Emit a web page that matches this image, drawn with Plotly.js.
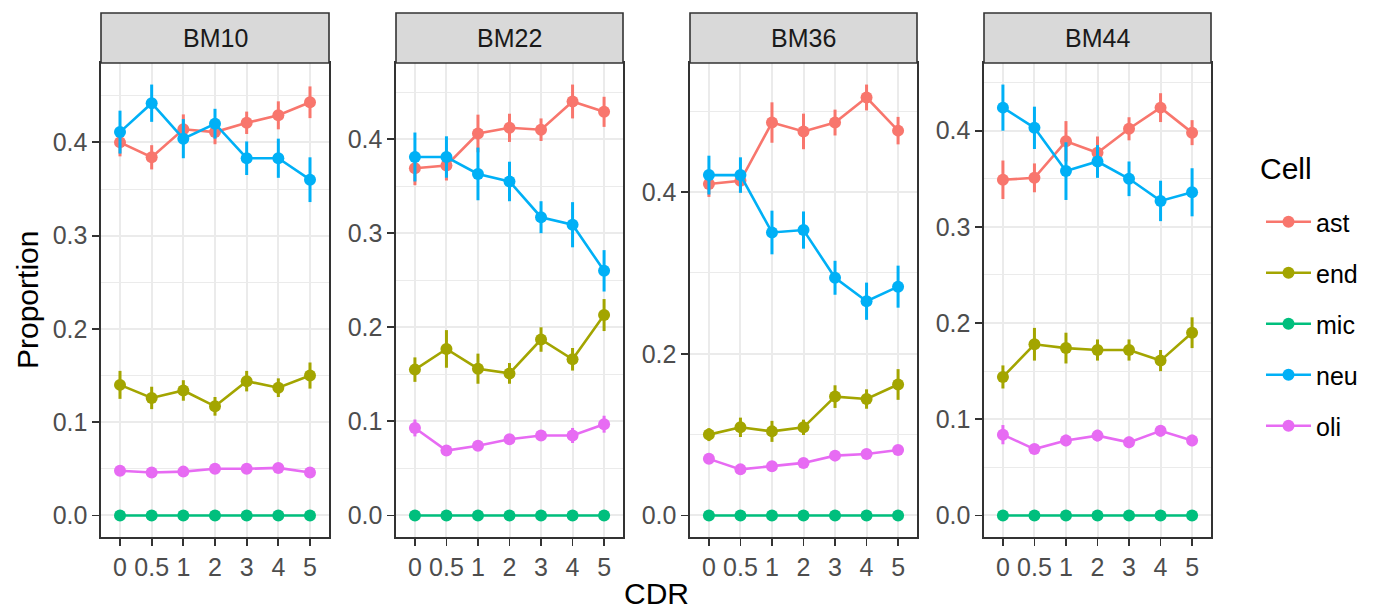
<!DOCTYPE html>
<html><head><meta charset="utf-8">
<script src="https://cdn.plot.ly/plotly-3.0.1.min.js"></script>
<style>html,body{margin:0;padding:0;background:#fff}#chart{width:1373px;height:613px}</style>
</head><body><div id="chart"></div>
<script>
const cdr = ['0', '0.5', '1', '2', '3', '4', '5'];
const panels = ['BM10', 'BM22', 'BM36', 'BM44'];
const cells = ['ast', 'end', 'mic', 'neu', 'oli'];
const cellColors = ['#F8766D', '#A3A500', '#00BF7D', '#00B0F6', '#E76BF3'];
const legendTitle = 'Cell';

// BM10
const BM10_ast = [0.400, 0.384, 0.414, 0.411, 0.421, 0.429, 0.443];
const BM10_ast_se = [0.015, 0.013, 0.016, 0.013, 0.012, 0.015, 0.017];
const BM10_end = [0.140, 0.126, 0.134, 0.117, 0.144, 0.137, 0.150];
const BM10_end_se = [0.015, 0.012, 0.011, 0.010, 0.011, 0.010, 0.014];
const BM10_mic = [0, 0, 0, 0, 0, 0, 0];
const BM10_mic_se = [0, 0, 0, 0, 0, 0, 0];
const BM10_neu = [0.411, 0.442, 0.404, 0.420, 0.383, 0.383, 0.360];
const BM10_neu_se = [0.023, 0.020, 0.021, 0.016, 0.018, 0.021, 0.024];
const BM10_oli = [0.048, 0.046, 0.047, 0.050, 0.050, 0.051, 0.046];
const BM10_oli_se = [0.003, 0.003, 0.003, 0.003, 0.003, 0.003, 0.003];

// BM22
const BM22_ast = [0.369, 0.372, 0.406, 0.412, 0.410, 0.440, 0.429];
const BM22_ast_se = [0.018, 0.016, 0.020, 0.015, 0.012, 0.018, 0.016];
const BM22_end = [0.155, 0.177, 0.156, 0.151, 0.187, 0.166, 0.213];
const BM22_end_se = [0.013, 0.020, 0.016, 0.011, 0.013, 0.012, 0.017];
const BM22_mic = [0, 0, 0, 0, 0, 0, 0];
const BM22_mic_se = [0, 0, 0, 0, 0, 0, 0];
const BM22_neu = [0.381, 0.381, 0.363, 0.355, 0.317, 0.309, 0.260];
const BM22_neu_se = [0.026, 0.022, 0.028, 0.021, 0.017, 0.024, 0.022];
const BM22_oli = [0.093, 0.069, 0.074, 0.081, 0.085, 0.085, 0.097];
const BM22_oli_se = [0.009, 0.004, 0.005, 0.005, 0.005, 0.008, 0.009];

// BM36
const BM36_ast = [0.410, 0.414, 0.486, 0.475, 0.486, 0.517, 0.476];
const BM36_ast_se = [0.016, 0.014, 0.025, 0.022, 0.016, 0.016, 0.017];
const BM36_end = [0.100, 0.109, 0.104, 0.109, 0.147, 0.144, 0.162];
const BM36_end_se = [0.008, 0.012, 0.013, 0.0095, 0.014, 0.012, 0.019];
const BM36_mic = [0, 0, 0, 0, 0, 0, 0];
const BM36_mic_se = [0, 0, 0, 0, 0, 0, 0];
const BM36_neu = [0.421, 0.421, 0.350, 0.353, 0.294, 0.265, 0.283];
const BM36_neu_se = [0.024, 0.022, 0.027, 0.023, 0.021, 0.023, 0.026];
const BM36_oli = [0.070, 0.057, 0.061, 0.065, 0.074, 0.076, 0.081];
const BM36_oli_se = [0.005, 0.004, 0.004, 0.004, 0.004, 0.004, 0.005];

// BM44
const BM44_ast = [0.349, 0.351, 0.389, 0.377, 0.402, 0.424, 0.398];
const BM44_ast_se = [0.020, 0.015, 0.021, 0.017, 0.012, 0.015, 0.013];
const BM44_end = [0.144, 0.178, 0.174, 0.172, 0.172, 0.161, 0.190];
const BM44_end_se = [0.012, 0.017, 0.016, 0.011, 0.011, 0.011, 0.016];
const BM44_mic = [0, 0, 0, 0, 0, 0, 0];
const BM44_mic_se = [0, 0, 0, 0, 0, 0, 0];
const BM44_neu = [0.424, 0.403, 0.358, 0.368, 0.350, 0.327, 0.336];
const BM44_neu_se = [0.024, 0.022, 0.030, 0.017, 0.018, 0.021, 0.025];
const BM44_oli = [0.084, 0.069, 0.078, 0.083, 0.076, 0.088, 0.078];
const BM44_oli_se = [0.010, 0.005, 0.006, 0.006, 0.006, 0.006, 0.006];

const dataTable = {
  BM10: {ast: [BM10_ast, BM10_ast_se], end: [BM10_end, BM10_end_se], mic: [BM10_mic, BM10_mic_se], neu: [BM10_neu, BM10_neu_se], oli: [BM10_oli, BM10_oli_se]},
  BM22: {ast: [BM22_ast, BM22_ast_se], end: [BM22_end, BM22_end_se], mic: [BM22_mic, BM22_mic_se], neu: [BM22_neu, BM22_neu_se], oli: [BM22_oli, BM22_oli_se]},
  BM36: {ast: [BM36_ast, BM36_ast_se], end: [BM36_end, BM36_end_se], mic: [BM36_mic, BM36_mic_se], neu: [BM36_neu, BM36_neu_se], oli: [BM36_oli, BM36_oli_se]},
  BM44: {ast: [BM44_ast, BM44_ast_se], end: [BM44_end, BM44_end_se], mic: [BM44_mic, BM44_mic_se], neu: [BM44_neu, BM44_neu_se], oli: [BM44_oli, BM44_oli_se]}
};

const W = 1373, H = 613;
const panelPx = [[101, 329], [396, 623], [690, 917], [984, 1211]];
const plotTop = 63, plotBottom = 537, stripTop = 13;
const fy = px => (H - px) / H;
const fx = px => px / W;
const FONT = 'Liberation Sans, Arial, sans-serif';
const SMALL = 25, BIG = 30;

const traces = [];
const layout = {
  width: W, height: H,
  margin: {l: 0, r: 0, t: 0, b: 0},
  paper_bgcolor: '#ffffff', plot_bgcolor: '#ffffff',
  font: {family: FONT, color: '#4D4D4D', size: SMALL},
  showlegend: true,
  legend: {
    x: fx(1261), y: fy(199), xanchor: 'left', yanchor: 'top',
    font: {size: SMALL, color: '#000000', family: FONT},
    tracegroupgap: 15.5, itemwidth: 45, bgcolor: 'rgba(0,0,0,0)'
  },
  shapes: [], annotations: []
};

panels.forEach((p, i) => {
  const ax = i === 0 ? '' : String(i + 1);
  // y range like ggplot: data range of mean +/- se, expanded by 5%
  let lo = Infinity, hi = -Infinity;
  cells.forEach(c => {
    const [v, e] = dataTable[p][c];
    v.forEach((y, k) => { lo = Math.min(lo, y - e[k]); hi = Math.max(hi, y + e[k]); });
  });
  lo = Math.max(lo, 0);
  const pad = (hi - lo) * 0.05;
  const big = p === 'BM36';
  layout['xaxis' + ax] = {
    domain: [fx(panelPx[i][0]), fx(panelPx[i][1])],
    anchor: 'y' + ax, type: 'category', categoryorder: 'array', categoryarray: cdr,
    range: [-0.6, cdr.length - 0.4], tickangle: 0,
    showgrid: true, gridcolor: '#EBEBEB', gridwidth: 2,
    showline: true, mirror: true, linecolor: '#333333', linewidth: 1.6,
    ticks: 'outside', ticklen: 7, tickwidth: 1.8, tickcolor: '#333333',
    tickfont: {size: SMALL, color: '#4D4D4D', family: FONT}, zeroline: false, fixedrange: true
  };
  layout['yaxis' + ax] = {
    domain: [fy(plotBottom), fy(plotTop)], anchor: 'x' + ax,
    range: [lo - pad, hi + pad], dtick: big ? 0.2 : 0.1, tick0: 0, tickformat: '.1f',
    showgrid: true, gridcolor: '#EBEBEB', gridwidth: 2,
    minor: {dtick: big ? 0.1 : 0.05, tick0: 0, showgrid: true, gridcolor: '#EBEBEB', gridwidth: 1, ticks: ''},
    showline: true, mirror: true, linecolor: '#333333', linewidth: 1.6,
    ticks: 'outside', ticklen: 7, tickwidth: 1.8, tickcolor: '#333333',
    tickfont: {size: SMALL, color: '#4D4D4D', family: FONT}, zeroline: false, fixedrange: true
  };
  cells.forEach((c, j) => {
    const [v, e] = dataTable[p][c];
    traces.push({
      type: 'scatter', mode: 'lines+markers', name: c,
      legendgroup: c, showlegend: i === 0,
      x: cdr, y: v, xaxis: 'x' + ax, yaxis: 'y' + ax,
      line: {color: cellColors[j], width: 2.6},
      marker: {color: cellColors[j], size: 12},
      error_y: {type: 'data', array: e, visible: true, color: cellColors[j], thickness: 3, width: 0},
      hoverinfo: 'x+y+name'
    });
  });
  layout.shapes.push({
    type: 'rect', xref: 'paper', yref: 'paper',
    x0: fx(panelPx[i][0]), x1: fx(panelPx[i][1]), y0: fy(plotTop), y1: fy(stripTop),
    fillcolor: '#D9D9D9', line: {color: '#333333', width: 1.6}, layer: 'above'
  });
  layout.annotations.push({
    xref: 'paper', yref: 'paper', x: fx((panelPx[i][0] + panelPx[i][1]) / 2), y: fy((plotTop + stripTop) / 2),
    text: p, showarrow: false, xanchor: 'center', yanchor: 'middle',
    font: {size: SMALL, color: '#1A1A1A', family: FONT}
  });
});

// legend title
layout.annotations.push({
  xref: 'paper', yref: 'paper', x: fx(1258), y: fy(168),
  text: legendTitle, showarrow: false, xanchor: 'left', yanchor: 'middle',
  font: {size: BIG, color: '#000000', family: FONT}
});
// axis titles
layout.annotations.push({
  xref: 'paper', yref: 'paper', x: fx((panelPx[0][0] + panelPx[3][1]) / 2), y: 0.002,
  text: 'CDR', showarrow: false, xanchor: 'center', yanchor: 'bottom',
  font: {size: BIG, color: '#000000', family: FONT}
});
layout.annotations.push({
  xref: 'paper', yref: 'paper', x: fx(27), y: fy((plotTop + plotBottom) / 2),
  text: 'Proportion', showarrow: false, textangle: -90, xanchor: 'center', yanchor: 'middle',
  font: {size: BIG, color: '#000000', family: FONT}
});

Plotly.newPlot('chart', traces, layout, {displayModeBar: false, staticPlot: true});
</script>
</body></html>
